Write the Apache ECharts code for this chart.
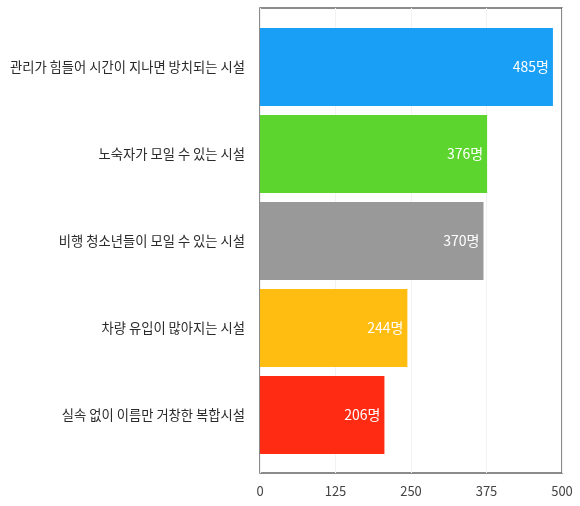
<!DOCTYPE html>
<html><head><meta charset="utf-8">
<script src="https://cdn.jsdelivr.net/npm/echarts@6/dist/echarts.min.js"></script>
<style>html,body{margin:0;padding:0;background:#fff}#c{width:580px;height:506px}</style>
</head><body><div id="c"></div>
<script>
const categories = ["관리가 힘들어 시간이 지나면 방치되는 시설","노숙자가 모일 수 있는 시설","비행 청소년들이 모일 수 있는 시설","차량 유입이 많아지는 시설","실속 없이 이름만 거창한 복합시설"];
const values = [485, 376, 370, 244, 206];
const colors = ["#1a9ff7", "#5cd62e", "#999999", "#ffbd12", "#ff2b12"];
const unit = "명";
const xTicks = [0, 125, 250, 375, 500];

const chart = echarts.init(document.getElementById('c'), null, {renderer:'canvas'});
chart.setOption({
  animation:false,
  grid:[
    {left:260, right:18, top:8, bottom:33, show:true, borderColor:'#666', borderWidth:1.5, backgroundColor:'transparent'},
    {left:260, right:18, top:23.5, bottom:47.5}
  ],
  xAxis:[
    {gridIndex:0, type:'value', min:xTicks[0], max:xTicks[xTicks.length-1], interval:125,
      axisLine:{show:false}, axisTick:{show:false},
      splitLine:{show:true, lineStyle:{color:'#f2f2f2', width:1}},
      axisLabel:{color:'#444', fontSize:13, margin:12, fontFamily:'Noto Sans CJK KR'}},
    {gridIndex:1, type:'value', min:xTicks[0], max:xTicks[xTicks.length-1], interval:125, show:false}
  ],
  yAxis:[
    {gridIndex:0, type:'category', data:categories, show:false},
    {gridIndex:1, type:'category', data:categories, inverse:true,
      axisLine:{show:false}, axisTick:{show:false},
      axisLabel:{color:'#2a2a2a', fontSize:13.3, margin:15, fontFamily:'Noto Sans CJK KR'}}
  ],
  series:[{type:'bar', xAxisIndex:1, yAxisIndex:1, barWidth:78,
    data: values.map((v,i)=>({value:v, itemStyle:{color:colors[i]}})),
    label:{show:true, position:'insideRight', color:'#fff', fontSize:14, distance:4,
      fontFamily:'Noto Sans CJK KR', formatter:p=>p.value+unit}}]
});
</script></body></html>
